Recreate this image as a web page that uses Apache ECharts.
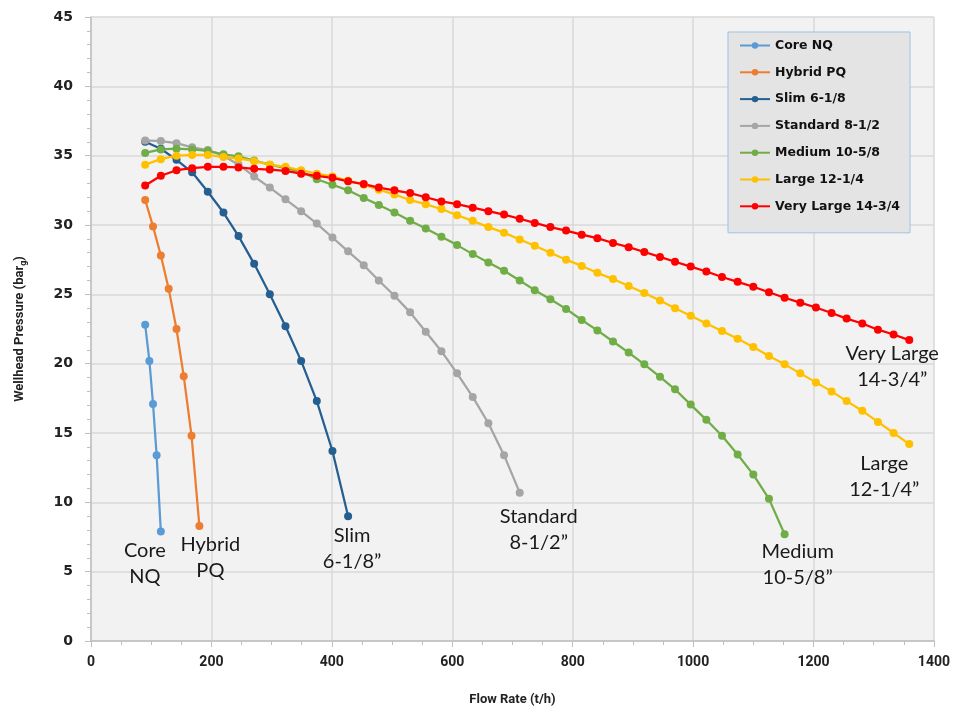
<!DOCTYPE html>
<html>
<head>
<meta charset="utf-8">
<title>Wellhead Pressure vs Flow Rate</title>
<script src="https://cdn.jsdelivr.net/npm/echarts@6/dist/echarts.min.js"></script>
<style>
  html, body { margin: 0; padding: 0; background: #fff; }
  #main { width: 953px; height: 715px; }
</style>
</head>
<body>
<div id="main"></div>
<script>
// 流量 (t/h) - shared x values for the slim .. very large curves
var flow = [90, 116, 142, 168, 194, 220, 245, 271, 297, 323, 349, 375, 401, 427, 453, 478, 504, 530, 556, 582,
            608, 634, 660, 686, 712, 737, 763, 789, 815, 841, 867, 893, 919, 945, 970, 996, 1022, 1048, 1074, 1100,
            1126, 1152, 1178, 1204, 1230, 1255, 1281, 1307, 1333, 1359];

var coreFlow = [90, 97, 103, 109, 116];
var corePressure = [22.8, 20.2, 17.1, 13.4, 7.9];

var hybridFlow = [90, 103, 116, 129, 142, 154, 167, 180];
var hybridPressure = [31.8, 29.9, 27.8, 25.4, 22.5, 19.1, 14.8, 8.3];

var slimPressure = [36.0, 35.5, 34.7, 33.8, 32.4, 30.9, 29.2, 27.2, 25.0, 22.7, 20.2, 17.3, 13.7, 9.0];

var standardPressure = [36.1, 36.05, 35.9, 35.6, 35.4, 35.0, 34.35, 33.5, 32.7, 31.85, 31.0, 30.1, 29.1, 28.1, 27.1,
                        26.0, 24.9, 23.7, 22.3, 20.9, 19.3, 17.6, 15.7, 13.4, 10.7];

var mediumPressure = [35.2, 35.45, 35.5, 35.45, 35.35, 35.1, 34.95, 34.65, 34.35, 34.1, 33.85, 33.3, 32.9, 32.5, 31.95,
                      31.45, 30.9, 30.3, 29.75, 29.15, 28.55, 27.9, 27.3, 26.7, 26.0, 25.3, 24.65, 23.95, 23.15, 22.4,
                      21.6, 20.8, 19.95, 19.05, 18.15, 17.05, 15.95, 14.8, 13.45, 12.0, 10.25, 7.7];

var largePressure = [34.35, 34.75, 35.0, 35.05, 35.05, 34.9, 34.8, 34.6, 34.35, 34.2, 33.95, 33.7, 33.5, 33.2, 32.9,
                     32.55, 32.2, 31.8, 31.5, 31.15, 30.7, 30.3, 29.85, 29.45, 28.95, 28.5, 28.0, 27.5, 27.05, 26.55,
                     26.1, 25.6, 25.1, 24.55, 24.0, 23.45, 22.9, 22.35, 21.8, 21.2, 20.55, 19.95, 19.3, 18.65, 18.0,
                     17.3, 16.6, 15.8, 15.0, 14.2];

var veryLargePressure = [32.85, 33.55, 33.95, 34.1, 34.2, 34.2, 34.15, 34.05, 34.0, 33.9, 33.7, 33.55, 33.4, 33.15, 32.95,
                         32.7, 32.5, 32.3, 32.0, 31.7, 31.5, 31.25, 31.0, 30.75, 30.45, 30.15, 29.85, 29.6, 29.3, 29.05,
                         28.7, 28.4, 28.05, 27.7, 27.35, 27.0, 26.65, 26.25, 25.9, 25.55, 25.15, 24.75, 24.4, 24.05, 23.65,
                         23.25, 22.9, 22.45, 22.1, 21.7];

var names = ['Core NQ', 'Hybrid PQ', 'Slim 6-1/8', 'Standard 8-1/2', 'Medium 10-5/8', 'Large 12-1/4', 'Very Large 14-3/4'];
var endLabels = ['Core\nNQ', 'Hybrid\nPQ', 'Slim\n6-1/8\u201d', 'Standard\n8-1/2\u201d', 'Medium\n10-5/8\u201d', 'Large\n12-1/4\u201d', 'Very Large\n14-3/4\u201d'];
var colors = ['#5b9bd5', '#ed7d31', '#255e91', '#a5a5a5', '#70ad47', '#ffc000', '#ff0000'];

// label placement tweaks (offset x, offset y, distance)
var labelPos = [[-16, 0, 2], [11, 0, 2], [4, 0, 2], [19, 0, 7], [13, 0, 0], [-25, 0, 2], [-17, -4, 0]];

var xs = [coreFlow, hybridFlow, flow, flow, flow, flow, flow];
var ys = [corePressure, hybridPressure, slimPressure, standardPressure, mediumPressure, largePressure, veryLargePressure];

function buildSeries(k) {
    var data = [];
    for (var i = 0; i < ys[k].length; i++) {
        data.push([xs[k][i], ys[k][i]]);
    }
    var last = data.length - 1;
    data[last] = {
        value: data[last],
        label: {
            show: true,
            formatter: endLabels[k],
            position: 'bottom',
            distance: labelPos[k][2],
            offset: [labelPos[k][0], labelPos[k][1]],
            fontFamily: 'Lato',
            fontSize: 20,
            lineHeight: 26,
            color: '#1a1a1a',
            align: 'center'
        }
    };
    return {
        name: names[k],
        type: 'line',
        data: data,
        symbol: 'circle',
        symbolSize: 8,
        color: colors[k],
        lineStyle: { width: 2.25, color: colors[k] },
        itemStyle: { color: colors[k] },
        emphasis: { disabled: true }
    };
}

var series = [];
for (var k = 0; k < names.length; k++) series.push(buildSeries(k));

var myChart = echarts.init(document.getElementById('main'));
var option = {
    animation: false,
    backgroundColor: '#ffffff',
    grid: {
        left: 91, right: 18, top: 17, bottom: 74,
        show: true, backgroundColor: '#f2f2f2', borderWidth: 0
    },
    legend: {
        orient: 'vertical',
        left: 728, top: 32,
        padding: [7, 10, 20, 11],
        itemGap: 13.8,
        itemWidth: 30, itemHeight: 8,
        backgroundColor: '#e4e4e4',
        borderColor: '#9dc3e6', borderWidth: 1,
        textStyle: { fontFamily: 'DejaVu Sans', fontWeight: 'bold', fontSize: 12.5, color: '#111' },
        data: names
    },
    xAxis: {
        type: 'value',
        min: 0, max: 1400, interval: 200,
        name: 'Flow Rate (t/h)',
        nameLocation: 'middle',
        nameGap: 52,
        nameTextStyle: { fontFamily: 'Roboto', fontWeight: 'bold', fontSize: 13, color: '#222' },
        axisLine: { show: true, lineStyle: { color: '#bfbfbf', width: 1.5 } },
        axisTick: { show: true, length: 6, lineStyle: { color: '#bfbfbf' } },
        minorTick: { show: true, splitNumber: 4, length: 4, lineStyle: { color: '#bfbfbf' } },
        splitLine: { show: true, lineStyle: { color: '#d9d9d9', width: 1.5 } },
        axisLabel: {
            margin: 14, fontFamily: 'Roboto', fontWeight: 'bold', fontSize: 14, color: '#222',
            formatter: function (v) { return String(v); }
        }
    },
    yAxis: {
        type: 'value',
        min: 0, max: 45, interval: 5,
        name: 'Wellhead Pressure (bar{g|g})',
        nameLocation: 'middle',
        nameGap: 63,
        nameTextStyle: {
            fontFamily: 'Roboto', fontWeight: 'bold', fontSize: 13, color: '#222',
            rich: { g: { fontFamily: 'Roboto', fontWeight: 'bold', fontSize: 9, color: '#222', padding: [7, 0, 0, 0] } }
        },
        axisLine: { show: true, lineStyle: { color: '#bfbfbf', width: 1.5 } },
        axisTick: { show: true, length: 6, lineStyle: { color: '#bfbfbf' } },
        minorTick: { show: true, splitNumber: 5, length: 4, lineStyle: { color: '#bfbfbf' } },
        splitLine: { show: true, lineStyle: { color: '#d9d9d9', width: 1.5 } },
        axisLabel: { margin: 18, fontFamily: 'DejaVu Sans', fontWeight: 'bold', fontSize: 14, color: '#222' }
    },
    series: series
};
myChart.setOption(option, true);
window.addEventListener('resize', function () {
    myChart.resize();
});
</script>
</body>
</html>
